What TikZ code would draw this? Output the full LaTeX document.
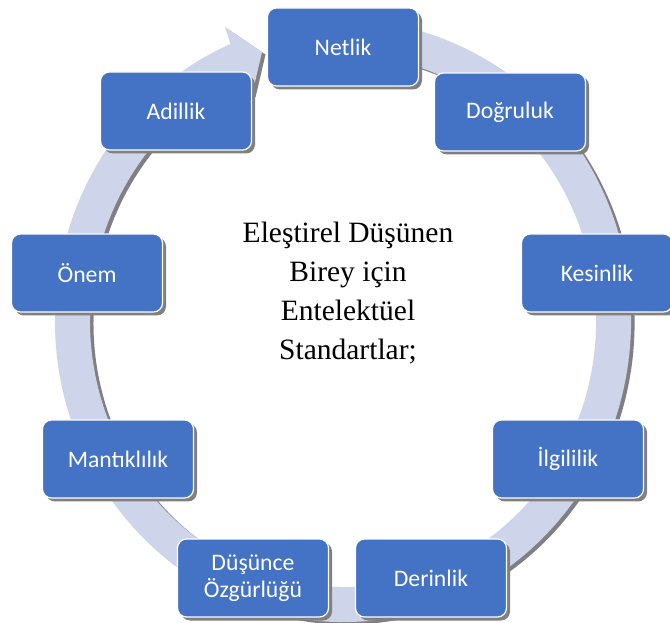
\documentclass[tikz,border=0pt]{standalone}
\usepackage{fontspec}
\setmainfont{Liberation Serif}
\newfontfamily\boxfont{Carlito}
\usetikzlibrary{shadows}
\definecolor{boxblue}{HTML}{4472C4}
\definecolor{ringfill}{HTML}{CED4EA}
\definecolor{shadowgray}{HTML}{808080}
\tikzset{
  stdbox/.style={draw=white, line width=1.2pt, fill=boxblue, rounded corners=9pt,
    minimum width=151pt, minimum height=78pt, inner sep=0pt, text=white,
    font=\boxfont\fontsize{23.7}{27}\selectfont, align=center,
    drop shadow={shadow xshift=3.5pt, shadow yshift=-3.5pt, fill=shadowgray, opacity=1}},
  ringbody/.style={fill=ringfill},
  ringshade/.style={fill=shadowgray},
  titletext/.style={font=\fontsize{29.5}{39.3}\selectfont, align=center, text=black}
}
\newcommand\ringband[1]{%
  \fill[#1] (402.9,595.4)
    arc[start angle=78, end angle=-247, x radius=288, y radius=301]
    -- (225,595) -- (262,570) -- (252,527) -- (244.2,545.9)
    arc[start angle=-247, end angle=78, x radius=253, y radius=266]
    -- cycle;}
\begin{document}
\begin{tikzpicture}[x=1pt,y=1pt]
\useasboundingbox (0,0) rectangle (670,622);
\ringband{ringshade, shift={(3.5,-2.5)}}
\ringband{ringbody}
\node[titletext] (title) at (348,329) {Eleştirel Düşünen\\Birey için\\Entelektüel\\Standartlar;};
\node[stdbox] (netlik) at (343,575) {Netlik};
\node[stdbox] (dogruluk) at (510,510) {Doğruluk};
\node[stdbox] (kesinlik) at (597,349) {Kesinlik};
\node[stdbox] (ilgililik) at (568,163) {İlgililik};
\node[stdbox] (derinlik) at (431,44) {Derinlik};
\node[stdbox] (dusunce) at (253,44) {Düşünce\\Özgürlüğü};
\node[stdbox] (mantik) at (118,163) {Mantıklılık};
\node[stdbox] (onem) at (87,349) {Önem};
\node[stdbox] (adillik) at (176,511) {Adillik};
\end{tikzpicture}
\end{document}
